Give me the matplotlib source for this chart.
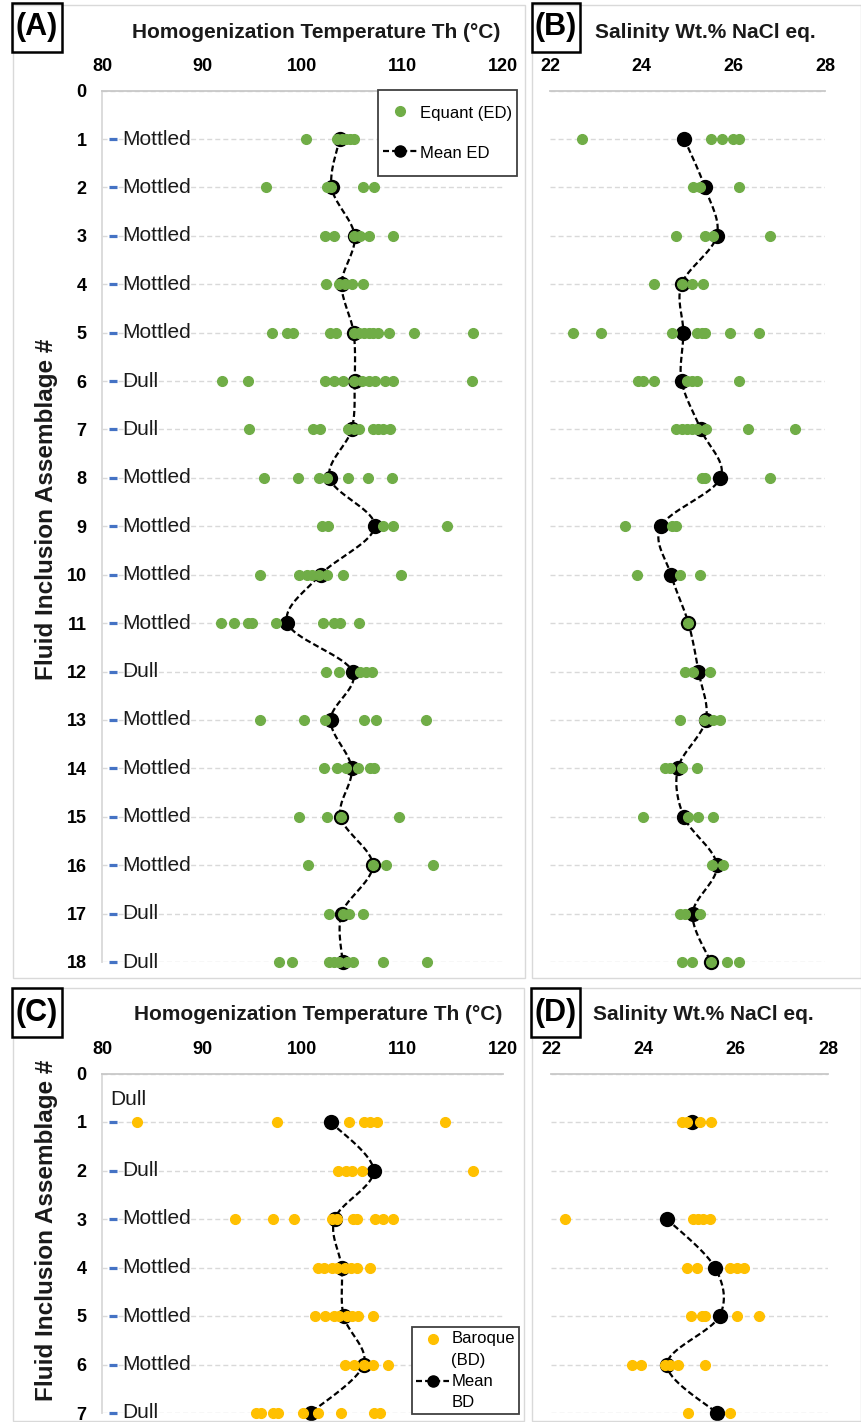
import numpy as np
import matplotlib

matplotlib.use("Agg")
import matplotlib.pyplot as plt
from matplotlib.lines import Line2D
from matplotlib.patches import Rectangle
from matplotlib.legend_handler import HandlerLine2D
from matplotlib.transforms import Affine2D

W, H = 862, 1422

GREEN = "#70AD47"
GOLD = "#FFC000"
BLUE = "#4472C4"
GRID = "#D9D9D9"
SPINE = "#C8C8C8"
TXT = "#1A1A1A"

# ---- equant dolomite (ED), FIA 1-18 ----
ed_rows = list(range(1, 19))
ed_cl = ["Mottled", "Mottled", "Mottled", "Mottled", "Mottled", "Dull", "Dull",
         "Mottled", "Mottled", "Mottled", "Mottled", "Dull", "Mottled", "Mottled",
         "Mottled", "Mottled", "Dull", "Dull"]
ed_th = [
    [100.3, 103.4, 103.9, 104.3, 104.7, 105.1],
    [96.4, 102.4, 102.8, 106.0, 107.1],
    [102.2, 103.1, 105.1, 105.7, 106.6, 109.0],
    [102.3, 103.6, 104.2, 104.9, 106.0],
    [97.0, 98.5, 99.1, 102.7, 103.3, 105.1, 105.6, 106.1, 106.6, 107.0, 107.5, 108.6, 111.1, 117.0],
    [92.0, 94.6, 102.2, 103.1, 104.0, 105.1, 105.9, 106.6, 107.2, 108.2, 109.0, 116.9],
    [94.7, 101.0, 101.7, 104.5, 105.1, 105.6, 107.0, 107.5, 108.0, 108.7],
    [96.2, 99.6, 101.6, 102.4, 104.5, 106.5, 108.9],
    [101.9, 102.5, 108.0, 109.0, 114.4],
    [95.8, 99.7, 100.4, 100.9, 101.6, 102.4, 104.0, 109.8],
    [91.9, 93.2, 94.6, 95.0, 97.4, 102.0, 103.1, 103.7, 105.6],
    [102.3, 103.6, 105.7, 106.3, 106.9],
    [95.8, 100.1, 102.2, 106.1, 107.3, 112.3],
    [102.1, 103.4, 104.3, 105.5, 106.7, 107.1],
    [99.7, 102.4, 103.8, 109.6],
    [100.5, 107.0, 108.3, 113.0],
    [102.6, 104.0, 104.6, 106.0],
    [97.7, 99.0, 102.6, 103.1, 103.6, 104.4, 105.0, 108.0, 112.4],
]
ed_th_mean = [103.7, 102.9, 105.2, 103.9, 105.1, 105.2, 104.9, 102.7, 107.2,
              101.8, 98.5, 105.0, 102.8, 104.9, 103.8, 107.0, 103.9, 104.0]
ed_sal = [
    [22.70, 25.51, 25.76, 26.00, 26.12],
    [25.13, 25.27, 26.12],
    [24.76, 25.38, 25.55, 26.79],
    [24.27, 24.87, 25.09, 25.33],
    [22.51, 23.11, 24.66, 25.20, 25.31, 25.38, 25.93, 26.55],
    [23.93, 24.04, 24.27, 24.98, 25.09, 25.20, 26.12],
    [24.74, 24.87, 24.98, 25.09, 25.20, 25.40, 26.31, 27.35],
    [25.31, 25.38, 26.79],
    [23.64, 24.66, 24.76],
    [23.89, 24.84, 25.27],
    [25.02],
    [24.95, 25.13, 25.49],
    [24.84, 25.35, 25.56, 25.71],
    [24.51, 24.62, 24.87, 25.20],
    [24.02, 25.02, 25.22, 25.56],
    [25.53, 25.77],
    [24.84, 24.95, 25.27],
    [24.89, 25.09, 25.51, 25.86, 26.13],
]
ed_sal_mean = [24.93, 25.38, 25.64, 24.87, 24.91, 24.87, 25.29, 25.72, 24.42,
               24.64, 25.02, 25.24, 25.40, 24.79, 24.92, 25.64, 25.11, 25.51]

# ---- baroque dolomite (BD), FIA 1-7 ----
bd_rows = list(range(1, 8))
bd_cl = ["Dull", "Dull", "Mottled", "Mottled", "Mottled", "Mottled", "Dull"]
bd_th = [
    [83.5, 97.5, 104.6, 106.1, 106.7, 107.4, 114.2],
    [103.5, 104.3, 104.9, 105.9, 117.0],
    [93.3, 97.1, 99.2, 102.9, 103.4, 105.0, 105.4, 107.2, 108.0, 109.0],
    [101.5, 102.1, 102.9, 103.4, 104.2, 104.8, 105.4, 106.7],
    [101.2, 102.2, 103.1, 103.6, 104.4, 104.9, 105.5, 107.0],
    [104.2, 105.1, 106.1, 107.0, 108.5],
    [95.4, 95.9, 97.1, 97.6, 100.0, 101.5, 103.8, 107.1, 107.7],
]
bd_th_mean = [102.8, 107.1, 103.2, 103.9, 104.1, 106.1, 100.8]
bd_sal = [
    [24.83, 24.94, 25.23, 25.47],
    [],
    [22.30, 25.08, 25.19, 25.30, 25.44],
    [24.94, 25.16, 25.88, 26.02, 26.17],
    [25.03, 25.26, 25.33, 26.02, 26.50],
    [23.75, 23.96, 24.47, 24.58, 24.76, 25.33],
    [24.97, 25.88],
]
bd_sal_mean = [25.06, np.nan, 24.51, 25.55, 25.65, 24.51, 25.59]

th_ticks = [80, 90, 100, 110, 120]
sal_ticks = [22, 24, 26, 28]
cl_x = 81.1  # position of the CL-texture labels on the Th axis

plt.rcParams["font.family"] = ["Liberation Sans", "DejaVu Sans"]


def fbox(x0, y0, x1, y1):
    """pixel box (top-left origin) -> figure fraction rect"""
    return [x0 / W, 1 - y1 / H, (x1 - x0) / W, (y1 - y0) / H]


def smooth(xs, ys, n=18):
    # cubic Bezier through the points, Excel-style smoothed line
    p = np.column_stack([xs, ys]).astype(float)
    out = [p[0]]
    t = np.linspace(0, 1, n)[1:, None]
    for i in range(len(p) - 1):
        p0, p1, p2 = p[max(i - 1, 0)], p[i], p[i + 1]
        p3 = p[min(i + 2, len(p) - 1)]
        c1 = p1 + (p2 - p0) / 6
        c2 = p2 - (p3 - p1) / 6
        seg = (1 - t) ** 3 * p1 + 3 * (1 - t) ** 2 * t * c1 + 3 * (1 - t) * t ** 2 * c2 + t ** 3 * p2
        out.extend(seg)
    out = np.array(out)
    return out[:, 0], out[:, 1]


class ShiftedHandler(HandlerLine2D):
    """legend handle moved up/down by dy pixels"""

    def __init__(self, dy=0, **kw):
        super().__init__(**kw)
        self.dy = dy

    def create_artists(self, legend, orig_handle, xdescent, ydescent, width, height, fontsize, trans):
        arts = super().create_artists(legend, orig_handle, xdescent, ydescent,
                                      width, height, fontsize, trans)
        for a in arts:
            a.set_transform(trans + Affine2D().translate(0, self.dy))
        return arts


def setup(ax, xlim, ticks, nrows, left):
    ax.set_xlim(*xlim)
    ax.set_ylim(nrows, 0)
    ax.xaxis.tick_top()
    ax.set_xticks(ticks)
    ax.tick_params(axis="x", length=0, pad=11, labelsize=13)
    for lab in ax.get_xticklabels():
        lab.set_fontweight("bold")
    ax.set_yticks(range(nrows + 1))
    if left:
        ax.tick_params(axis="y", length=0, pad=11, labelsize=13)
        for lab in ax.get_yticklabels():
            lab.set_fontweight("bold")
    else:
        ax.tick_params(axis="y", length=0, labelleft=False)
    ax.grid(axis="y", color=GRID, lw=1.0, dashes=(3.6, 2.2))
    ax.set_axisbelow(True)
    for s in ("right", "bottom"):
        ax.spines[s].set_visible(False)
    ax.spines["top"].set_color(SPINE)
    ax.spines["top"].set_linewidth(1.3)
    ax.spines["left"].set_visible(left)
    ax.spines["left"].set_color(GRID)
    ax.spines["left"].set_linewidth(1.3)


def draw_series(ax, rows, pts, means, color):
    for r, vals in zip(rows, pts):
        ax.plot(vals, [r] * len(vals), ls="none", marker="o", ms=7, color=color,
                mec=color, zorder=4, clip_on=False)
    m = np.array(means, dtype=float)
    rr = np.array(rows, dtype=float)
    ok = ~np.isnan(m)
    # dashed smoothed line over each unbroken run of means
    start = None
    for i in range(len(m) + 1):
        if i < len(m) and ok[i]:
            if start is None:
                start = i
        else:
            if start is not None and i - start > 1:
                sx, sy = smooth(m[start:i], rr[start:i])
                ax.plot(sx, sy, color="k", lw=1.6, dashes=(2.7, 1.4), zorder=3, clip_on=False)
            start = None
    ax.plot(m[ok], rr[ok], ls="none", marker="o", ms=9.5, color="k", mec="k",
            mew=1.5, zorder=3, clip_on=False)


def cl_labels(ax, rows, labels, first_above=False):
    ax.plot([cl_x] * len(rows), rows, ls="none", marker="_", ms=6, mew=2.3,
            color=BLUE, zorder=4, clip_on=False)
    for i, (r, lab) in enumerate(zip(rows, labels)):
        if first_above and i == 0:
            ax.annotate(lab, (cl_x, r), xytext=(-2.2, 16.5), textcoords="offset points",
                        ha="left", va="center", fontsize=15, color=TXT)
        else:
            ax.annotate(lab, (cl_x, r), xytext=(6.5, 0), textcoords="offset points",
                        ha="left", va="center", fontsize=15, color=TXT)


fig = plt.figure(figsize=(W / 100, H / 100), dpi=100)

# panel frames
for x0, y0, x1, y1 in [(13, 5, 525, 978), (532, 5, 861, 978),
                       (13, 988, 524, 1421), (532, 988, 861, 1421)]:
    fig.patches.append(Rectangle((x0 / W, 1 - y1 / H), (x1 - x0) / W, (y1 - y0) / H,
                                 transform=fig.transFigure, fill=False,
                                 edgecolor=GRID, lw=1.0))

axA = fig.add_axes(fbox(102, 90.6, 503, 962))
axB = fig.add_axes(fbox(550, 90.6, 825, 962))
axC = fig.add_axes(fbox(102, 1073.5, 503, 1413))
axD = fig.add_axes(fbox(551, 1073.5, 828, 1413))

setup(axA, (80, 120), th_ticks, 18, True)
setup(axB, (22, 28), sal_ticks, 18, False)
setup(axC, (80, 120), th_ticks, 7, True)
setup(axD, (22, 28), sal_ticks, 7, False)

draw_series(axA, ed_rows, ed_th, ed_th_mean, GREEN)
draw_series(axB, ed_rows, ed_sal, ed_sal_mean, GREEN)
draw_series(axC, bd_rows, bd_th, bd_th_mean, GOLD)
draw_series(axD, bd_rows, bd_sal, bd_sal_mean, GOLD)

cl_labels(axA, ed_rows, ed_cl)
cl_labels(axC, bd_rows, bd_cl, first_above=True)

# legends
hA = [Line2D([], [], ls="none", marker="o", ms=7, color=GREEN, label="Equant (ED)"),
      Line2D([], [], color="k", lw=1.6, dashes=(2.7, 1.4), marker="o", ms=8, label="Mean ED")]
legA = axA.legend(handles=hA, loc="upper left", bbox_to_anchor=(378 / W, 1 - 90 / H),
                  bbox_transform=fig.transFigure, fontsize=12, fancybox=False,
                  edgecolor="#404040", framealpha=1, borderpad=0.3, labelspacing=0.24,
                  handleheight=2.94, handlelength=2.1, handletextpad=0.1, borderaxespad=0,
                  handler_map={Line2D: ShiftedHandler(dy=-5)})
legA.get_frame().set_linewidth(1.3)

hC = [Line2D([], [], ls="none", marker="o", ms=7, color=GOLD, label="Baroque\n(BD)"),
      Line2D([], [], color="k", lw=1.6, dashes=(2.7, 1.4), marker="o", ms=8, label="Mean\nBD")]
legC = axC.legend(handles=hC, loc="upper left", bbox_to_anchor=(412 / W, 1 - 1327 / H),
                  bbox_transform=fig.transFigure, fontsize=12, fancybox=False,
                  edgecolor="#404040", framealpha=1, borderpad=0.25, labelspacing=0.35,
                  handlelength=2.0, handletextpad=0.1, borderaxespad=0,
                  handler_map={Line2D: ShiftedHandler(dy=11)})
legC.get_frame().set_linewidth(1.3)
for t in legC.get_texts():
    t.set_linespacing(1.55)

# titles
title_kw = dict(ha="center", va="center", fontsize=15, fontweight="bold", color=TXT)
fig.text(316 / W, 1 - 33 / H, "Homogenization Temperature Th (°C)", **title_kw)
fig.text(318 / W, 1 - 1015 / H, "Homogenization Temperature Th (°C)", **title_kw)
fig.text(705 / W, 1 - 33 / H, "Salinity Wt.% NaCl eq.", **title_kw)
fig.text(703 / W, 1 - 1015 / H, "Salinity Wt.% NaCl eq.", **title_kw)

ylab_kw = dict(ha="center", va="center", rotation=90, fontsize=17.5, fontweight="bold", color=TXT)
fig.text(47 / W, 1 - 509 / H, "Fluid Inclusion Assemblage #", **ylab_kw)
fig.text(47 / W, 1 - 1230 / H, "Fluid Inclusion Assemblage #", **ylab_kw)

# boxed panel letters
for tag, (x0, y0, x1, y1) in [("(A)", (12, 3, 62, 52)), ("(B)", (532, 3, 580, 52)),
                              ("(C)", (12, 988, 62, 1037)), ("(D)", (531, 988, 580, 1037))]:
    fig.patches.append(Rectangle((x0 / W, 1 - y1 / H), (x1 - x0) / W, (y1 - y0) / H,
                                 transform=fig.transFigure, fill=False,
                                 edgecolor="k", lw=1.8))
    fig.text((x0 + x1) / 2 / W, 1 - (y0 + y1) / 2 / H, tag, ha="center", va="center",
             fontsize=22, fontweight="bold", color="k")

fig.savefig("out.png", dpi=100, facecolor="white")
